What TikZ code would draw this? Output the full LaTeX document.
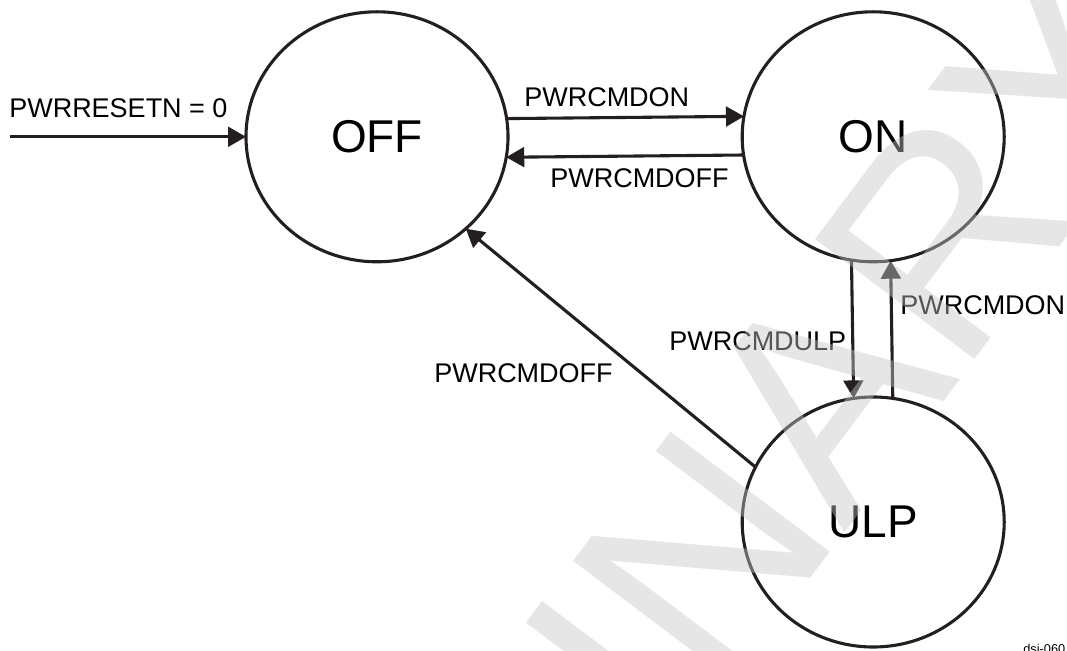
\documentclass[tikz,border=0pt]{standalone}
\usepackage{fontspec}
\setmainfont{Liberation Sans}
\usepackage{xcolor}
\usepackage{tikz}
\usetikzlibrary{shapes.geometric, arrows.meta}
\definecolor{FSMInk}{RGB}{35,31,32}

\begin{document}
\begin{tikzpicture}[
          fsmstate/.style={ellipse, draw=FSMInk, line width=2.2pt, inner sep=0pt,
                      outer sep=0pt, minimum width=6.55cm, minimum height=6.25cm,
                      font=\fontsize{32.7}{32.7}\selectfont},
          arr/.style={-{Triangle[length=12.8pt,width=14pt]}, line width=2.2pt, FSMInk},
          lbl/.style={anchor=base west, inner sep=0pt,
                      font=\fontsize{19.2}{19.2}\selectfont},
          wmark/.style={inner sep=0pt, text=black!22, text opacity=0.43,
                      font=\fontsize{206.3}{206.3}\selectfont}
        ]
        \path[fill=white, use as bounding box] (0,0) rectangle (26.675,16.25);

        % power states
        \node[fsmstate] (off) at (9.425,12.83) {OFF};
        \node[fsmstate] (on)  at (21.83,12.83) {ON};
        \node[fsmstate] (ulp) at (21.83,3.2)   {ULP};
        \coordinate (rst) at (0.25,12.83);

        % transitions
        \draw[arr] (rst) -- (off);
        \draw[arr] (off.8.35) -- (on.171.65);
        \draw[arr] (on.188.35) -- (off.351.65);
        \draw[arr] (on.260.7) -- (ulp.99.3);
        \draw[arr] (ulp.81.8) -- (on.278.2);
        \draw[arr] (ulp.155.8) -- (off.314.7);

        % transition labels
        \node[lbl] (lrst)  at (0.225,13.3)  {PWRRESETN = 0};
        \node[lbl] (lon)   at (13.1,13.575) {PWRCMDON};
        \node[lbl] (loff)  at (13.75,11.55) {PWRCMDOFF};
        \node[lbl] (lulp)  at (16.725,7.475) {PWRCMDULP};
        \node[lbl] (lwake) at (22.5,8.375)  {PWRCMDON};
        \node[lbl] (lshut) at (10.85,6.675) {PWRCMDOFF};
        \node[anchor=base west, inner sep=0pt, font=\fontsize{9.1}{9.1}\selectfont]
              (tag) at (25.575,-0.075) {dsi-060};

        % watermark
        \node[wmark, rotate=53, anchor=base east] (wm) at (30.0,14.725) {PRELIMINARY};
      \end{tikzpicture}
\end{document}
